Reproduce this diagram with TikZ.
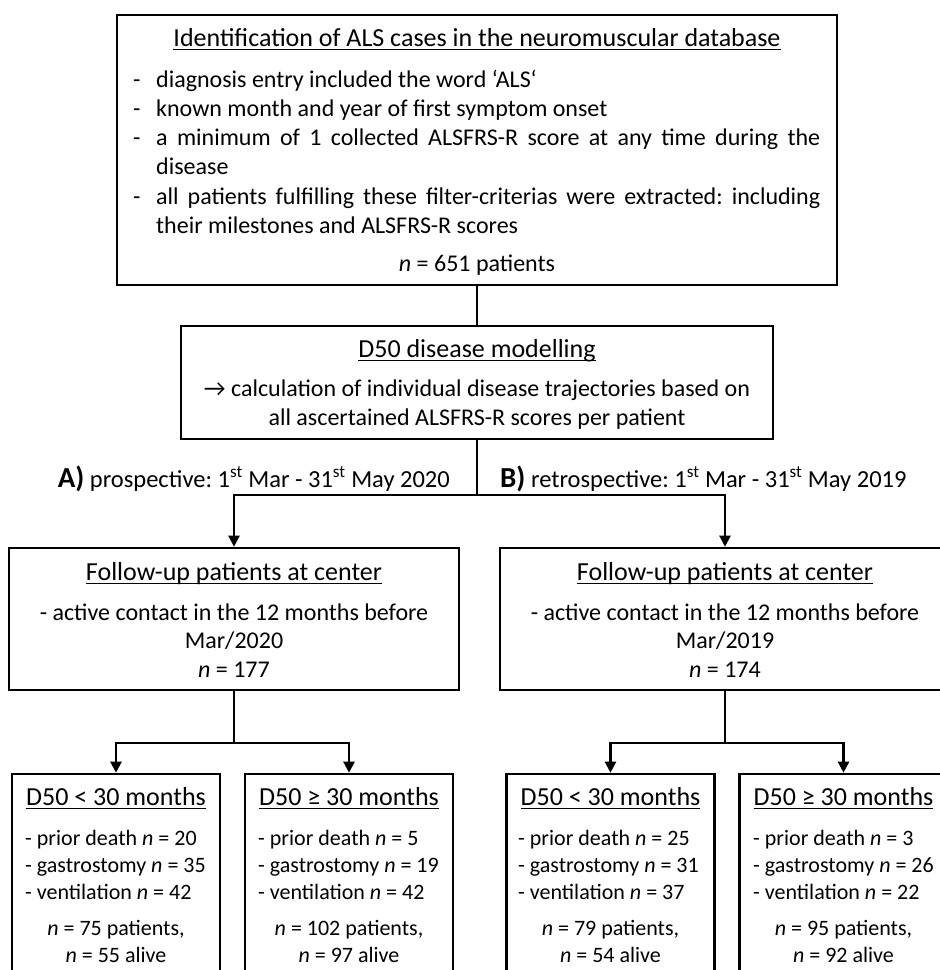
\documentclass[tikz,border=0pt]{standalone}
\usepackage{fontspec}
\setmainfont{Carlito}
\usetikzlibrary{arrows.meta}
\frenchspacing
\newcommand\ulx[1]{\setbox0=\hbox{#1}\rlap{\rule[-4pt]{\wd0}{1.5pt}}\box0}
\newcommand\itm[1]{\hangindent=23pt\hangafter=1\noindent\makebox[23pt][l]{-}#1\par}
\begin{document}
\begin{tikzpicture}[x=1pt,y=-1pt,
  box/.style={draw, line width=2.6pt, rectangle, inner sep=0pt},
  conn/.style={line width=2.3pt},
  arr/.style={conn, -{Triangle[width=11pt,length=11pt]}},
  ttl/.style={inner sep=0pt, font=\fontsize{26}{30}\selectfont},
  txt/.style={inner sep=0pt, font=\fontsize{24}{29}\selectfont},
  lbl/.style={inner sep=0pt, font=\fontsize{24.5}{29}\selectfont},
  big/.style={inner sep=0pt, font=\fontsize{26}{30}\selectfont},
  sml/.style={inner sep=0pt, font=\fontsize{22}{27}\selectfont}]
\useasboundingbox (0,0) rectangle (940,970);
\clip (0,0) rectangle (940,970);

% top box
\node[box, minimum width=720pt, minimum height=270pt] (top) at (477,150) {};
\node[ttl, anchor=base] (toptitle) at (477,46) {\ulx{Identification of ALS cases in the neuromuscular database}};
\node[txt, anchor=base west] (toplist) at (133,87) {\parbox[t]{687pt}{\fontsize{24}{29.3}\selectfont\parindent=0pt
\itm{diagnosis entry included the word ‘ALS‘}
\itm{known month and year of first symptom onset}
\itm{a minimum of 1 collected ALSFRS-R score at any time during the\linebreak disease}
\itm{all patients fulfilling these filter-criterias were extracted: including\linebreak their milestones and ALSFRS-R scores}}};
\node[txt, anchor=base] (topn) at (477,271) {\textit{n} = 651 patients};

% D50 box
\node[box, minimum width=592pt, minimum height=113pt] (d50) at (477,382.5) {};
\node[ttl, anchor=base] (d50title) at (477,357) {\ulx{D50 disease modelling}};
\node[txt, anchor=base] (d50a) at (477,396) {→ calculation of individual disease trajectories based on};
\node[txt, anchor=base] (d50b) at (477,425) {all ascertained ALSFRS-R scores per patient};

% labels
\node[lbl, anchor=base east] (labA) at (450,487) {{\fontsize{29}{30}\selectfont\bfseries A)} prospective: 1\textsuperscript{st} Mar - 31\textsuperscript{st} May 2020};
\node[lbl, anchor=base west] (labB) at (500,487) {{\fontsize{29}{30}\selectfont\bfseries B)} retrospective: 1\textsuperscript{st} Mar - 31\textsuperscript{st} May 2019};

% follow-up boxes
\node[box, minimum width=450pt, minimum height=142pt] (fuL) at (234,619) {};
\node[box, minimum width=450pt, minimum height=142pt] (fuR) at (725,619) {};
\foreach \b/\x/\yr/\nn in {fuL/234/2020/177, fuR/725/2019/174}{
  \node[ttl, anchor=base] (\b t) at (\x,580) {\ulx{Follow-up patients at center}};
  \node[txt, anchor=base] (\b a) at (\x,620) {- active contact in the 12 months before};
  \node[txt, anchor=base] (\b b) at (\x,648) {Mar/\yr};
  \node[txt, anchor=base] (\b c) at (\x,677) {\textit{n} = \nn};
}

% bottom boxes
\foreach \b/\x in {bA/116, bB/349, bC/610.5, bD/843.5}{
  \node[box, minimum width=208pt, minimum height=226pt] (\b) at (\x,887) {};
}
\foreach \b/\x/\lx/\ti/\pd/\gs/\ve/\np/\na in {
  bA/116/25/{D50 < 30 months}/20/35/42/75/55,
  bB/349/258/{D50 ≥ 30 months}/5/19/42/102/97,
  bC/610.5/518/{D50 < 30 months}/25/31/37/79/54,
  bD/843.5/753/{D50 ≥ 30 months}/3/26/22/95/92}{
  \node[big, anchor=base] (\b t) at (\x,805) {\ulx{\ti}};
  \node[sml, anchor=base west] (\b 1) at (\lx,845) {- prior death \textit{n} = \pd};
  \node[sml, anchor=base west] (\b 2) at (\lx,872) {- gastrostomy \textit{n} = \gs};
  \node[sml, anchor=base west] (\b 3) at (\lx,899) {- ventilation \textit{n} = \ve};
  \node[sml, anchor=base] (\b 4) at (\x,935) {\textit{n} = \np\ patients,};
  \node[sml, anchor=base] (\b 5) at (\x,962) {\textit{n} = \na\ alive};
}

% connectors
\draw[conn] (top.south) -- (d50.north);
\draw[conn] (d50.south) -- ++(0,55) coordinate (j1);
\draw[arr] (j1) -| (fuL.north);
\draw[arr] (j1) -| (fuR.north);
\draw[conn] (fuL.south) -- ++(0,52) coordinate (j2);
\draw[arr] (j2) -| (bA.north);
\draw[arr] (j2) -| (bB.north);
\draw[conn] (fuR.south) -- ++(0,52) coordinate (j3);
\draw[arr] (j3) -| (bC.north);
\draw[arr] (j3) -| (bD.north);
\end{tikzpicture}
\end{document}
